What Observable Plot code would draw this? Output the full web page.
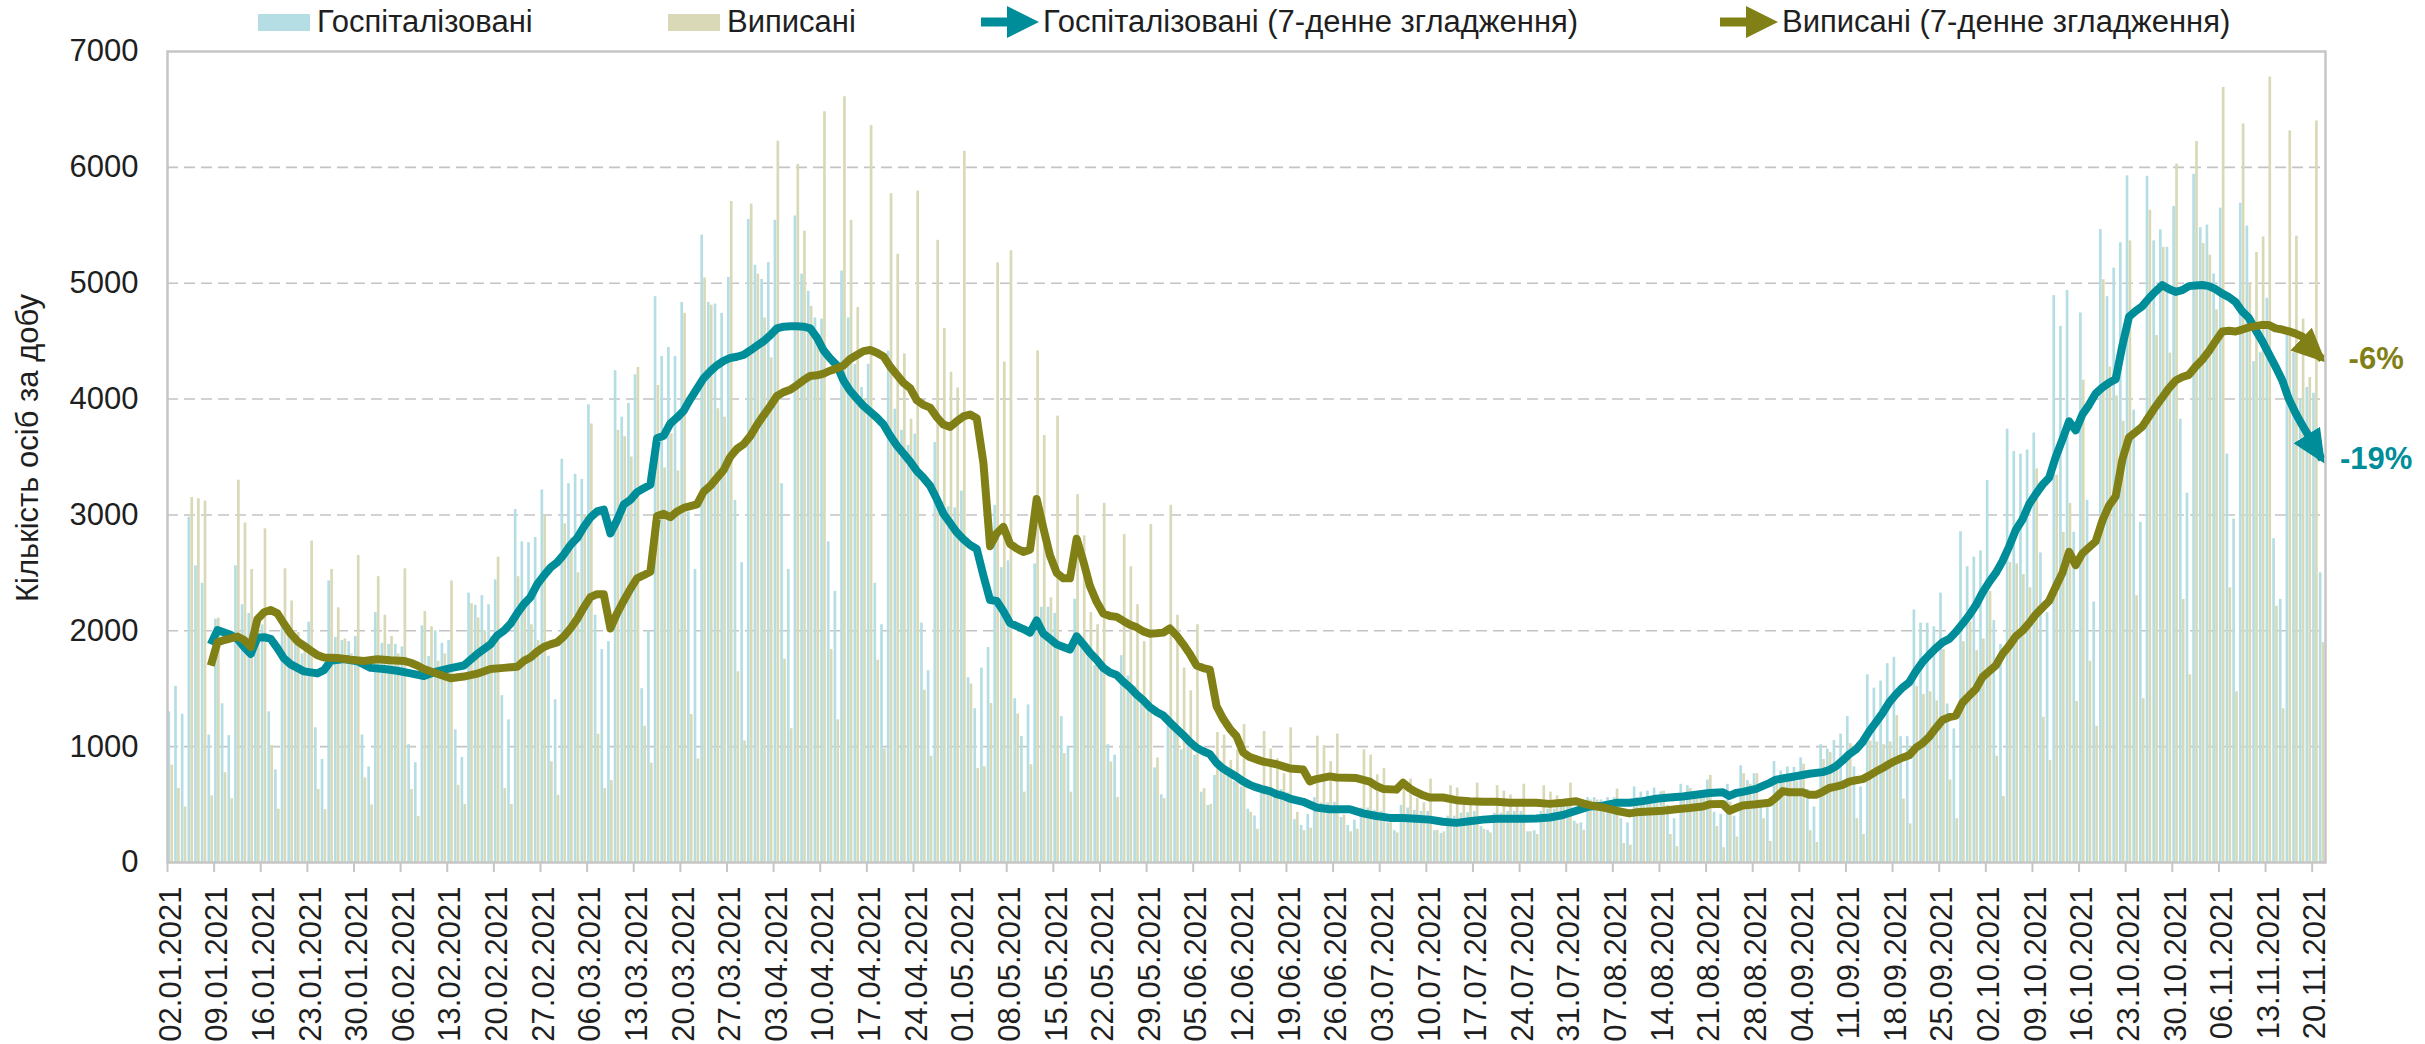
<!DOCTYPE html>
<html><head><meta charset="utf-8">
<script src="https://cdn.jsdelivr.net/npm/d3@7"></script>
<script src="https://cdn.jsdelivr.net/npm/@observablehq/plot@0.6"></script>
<style>
body{margin:0;background:#fff;font-family:"Liberation Sans",Arial,sans-serif;color:#1f1f1f;}
#wrap{position:relative;width:2425px;height:1044px;}
#legend{position:relative;height:44px;width:2425px;font-size:31px;}
.li{position:absolute;top:0;height:44px;display:flex;align-items:center;white-space:nowrap;}
.sw{display:inline-block;width:52px;height:17px;margin-right:7px;}
#ytitle{position:absolute;left:28px;top:448px;transform:translate(-50%,-50%) rotate(-90deg);font-size:31px;white-space:nowrap;}
</style></head>
<body>
<div id="wrap">
<div id="legend"></div>
<div id="chart"></div>
<div id="ytitle"></div>
</div>
<script>
// ---------- DATA ----------
const startDate = "2021-01-02";            // first category (02.01.2021), one category per day
const seriesNames = ["Госпіталізовані", "Виписані", "Госпіталізовані (7-денне згладження)", "Виписані (7-денне згладження)"];
const yTitle = "Кількість осіб за добу";
const yTicks = [0, 1000, 2000, 3000, 4000, 5000, 6000, 7000];
const changeLabels = ["-19%", "-6%"];       // hospitalised, discharged

// daily hospitalised (rows = weeks starting on Saturday)
const hospitalized = [
1300,1520,1280,2980,2560,2410,1100,
2100,1370,1095,2560,2225,2150,1900,
2050,1300,800,2045,1950,1880,1800,
2075,1163,890,2430,1942,1915,1906,
1950,1100,825,2157,1892,1883,1883,
1860,1017,862,2043,1778,2000,1892,
1915,1145,907,2325,2220,2303,2225,
2440,1440,1231,3046,2768,2760,2805,
3215,1780,1405,3480,3270,3350,3306,
3950,2134,1838,1906,4245,3844,3963,
4209,1500,2000,4884,4368,4446,4368,
4834,3025,2530,5415,4834,4820,4740,
5050,3126,2588,5550,5155,5032,5178,
5543,3270,2530,5580,5078,4930,4700,
4690,2768,2340,5105,4700,4300,4100,
4300,2410,2052,4414,3913,3730,3600,
3698,2066,1655,3625,3115,3070,3060,
3206,1596,1327,1678,1856,3083,2545,
2604,1414,1087,1360,2577,2203,2203,
2150,1259,1004,2272,1940,1795,1700,
1655,1017,926,1785,1610,1520,1430,
1340,816,584,1270,1155,972,1017,
926,607,492,752,789,743,698,
652,460,401,616,607,600,630,
600,370,320,415,560,515,515,
520,388,320,365,470,470,450,
440,342,274,493,470,450,440,
440,274,251,400,400,425,430,
440,310,278,425,425,440,440,
440,265,274,440,460,460,480,
500,356,342,560,560,540,560,
560,378,342,652,607,616,643,
610,493,378,675,662,610,620,
712,433,415,675,400,835,707,
767,538,479,871,789,825,821,
903,630,479,1017,980,1053,1108,
1259,825,652,1620,1505,1566,1716,
1771,1086,1086,2180,2066,2066,2034,
2325,1368,1153,2855,2553,2636,2690,
3297,2089,1883,3740,3547,3525,3560,
3707,2672,2157,4893,4628,4938,2850,
4743,3126,2248,5463,4884,5130,5349,
5927,3904,2936,5923,5365,5461,5310,
5662,3826,3187,5940,5479,5502,5080,
5648,3525,2964,5690,5493,4323,4400,
4870,2795,2271,4600,4400,4000,4100,
4050,2500];

// daily discharged
const discharged = [
840,640,480,3150,3140,3120,575,
2110,775,550,3300,2930,2530,2000,
2880,1010,460,2535,2257,1985,1900,
2775,630,456,2530,2198,1930,1800,
2650,730,497,2467,2134,1952,1800,
2535,630,397,2166,2034,1737,1800,
2430,666,500,2234,2111,2000,1950,
2636,638,502,2467,2200,2052,1915,
3000,870,580,2923,2800,2500,3000,
3785,1108,638,707,3730,3675,3500,
4273,1176,857,4118,3406,3700,3380,
4740,1277,894,5045,4810,3917,3844,
5705,1646,1049,5683,5078,4700,4355,
6225,1756,1155,6025,5450,4800,4500,
6480,1838,1231,6610,5543,4790,4000,
6360,1746,980,5773,5250,4390,3826,
5796,1487,917,5370,4610,4232,4095,
6138,1540,812,826,1373,5175,4320,
5280,1282,607,844,4415,3685,2285,
3853,940,607,3175,2820,2157,2052,
3100,867,561,2830,2553,2225,1906,
2918,903,552,3083,2134,1678,1482,
2052,638,502,1122,1099,880,972,
1190,433,287,1131,980,895,767,
1163,433,274,296,1090,1008,871,
1108,410,265,287,972,926,757,
812,342,255,638,720,552,515,
720,278,265,662,643,515,515,
685,287,255,662,616,584,515,
675,265,242,662,607,575,540,
685,333,278,540,540,515,515,
634,164,150,560,560,560,515,
616,242,137,560,638,590,560,
752,310,128,520,220,767,675,
767,378,182,685,757,767,698,
849,274,173,890,949,835,707,
1026,378,242,1049,1040,1017,1040,
1268,548,333,1520,1450,1473,1395,
1838,712,378,1906,2075,1829,1930,
2340,917,570,2590,2577,2485,2370,
3397,1254,880,3343,2850,3100,1390,
4163,1737,1176,5030,4277,4027,3808,
5365,2303,1414,5630,4548,5310,4397,
6028,2271,1620,6224,5343,5242,4770,
6690,2371,1473,6375,5000,5265,5400,
6780,2212,1327,6315,5406,4690,4186,
6400,1897];

// 7-day smoothed lines: [day index from startDate, value]
const hospitalizedSmooth = [
[6,1883],[7,2006],[8,1985],[9,1965],[10,1930],[11,1860],[12,1800],[13,1940],[14,1945],[15,1930],[16,1850],[17,1760],[18,1710],[20,1650],[22,1632],[23,1660],[24,1740],[26,1756],[28,1737],[30,1680],[32,1670],[34,1655],[36,1632],[38,1610],[40,1650],[42,1678],[44,1700],[46,1800],[48,1883],[49,1960],[50,2000],[51,2060],[52,2150],[53,2230],[54,2290],[55,2400],[56,2476],[57,2545],[58,2590],[59,2658],[60,2740],[61,2800],[62,2896],[63,2978],[64,3030],[65,3046],[66,2841],[67,2955],[68,3090],[69,3130],[70,3197],[71,3230],[72,3260],[73,3662],[74,3684],[75,3789],[76,3840],[77,3900],[78,4000],[79,4090],[80,4180],[81,4240],[82,4291],[83,4330],[84,4355],[85,4365],[86,4382],[87,4420],[88,4460],[89,4500],[90,4551],[91,4610],[92,4625],[93,4628],[94,4628],[95,4625],[96,4610],[97,4530],[98,4420],[99,4350],[100,4291],[101,4160],[102,4070],[103,4004],[104,3940],[105,3890],[106,3840],[107,3780],[108,3684],[109,3600],[110,3530],[111,3460],[112,3380],[113,3320],[114,3251],[115,3137],[116,3010],[117,2930],[118,2850],[119,2790],[120,2740],[121,2706],[122,2476],[123,2265],[124,2257],[125,2170],[126,2066],[127,2040],[128,2015],[129,1984],[130,2089],[131,1975],[132,1930],[133,1883],[134,1860],[135,1838],[136,1952],[137,1883],[138,1810],[139,1750],[140,1680],[141,1640],[142,1619],[143,1560],[144,1510],[145,1450],[146,1400],[147,1340],[148,1300],[149,1268],[150,1210],[151,1154],[152,1100],[153,1040],[154,990],[155,960],[156,935],[157,860],[158,810],[159,775],[160,740],[161,700],[162,670],[163,648],[164,630],[165,616],[166,590],[167,575],[168,552],[170,524],[172,475],[174,460],[177,460],[179,424],[181,401],[183,385],[185,385],[187,378],[189,370],[191,352],[193,342],[195,356],[197,370],[199,378],[203,378],[205,380],[207,388],[209,410],[211,447],[213,483],[215,490],[217,515],[219,515],[221,530],[223,550],[225,561],[227,570],[229,584],[231,600],[233,607],[234,575],[235,600],[236,610],[238,635],[240,685],[241,715],[242,725],[244,745],[246,766],[248,780],[249,798],[250,830],[251,880],[252,935],[253,975],[254,1040],[255,1131],[256,1210],[257,1290],[258,1382],[259,1450],[260,1510],[261,1555],[262,1650],[263,1730],[264,1792],[265,1850],[266,1900],[267,1930],[268,1990],[269,2060],[270,2134],[271,2220],[272,2330],[273,2420],[274,2499],[275,2600],[276,2727],[277,2870],[278,2960],[279,3092],[280,3180],[281,3260],[282,3320],[283,3500],[284,3650],[285,3808],[286,3730],[287,3867],[288,3950],[289,4049],[290,4100],[291,4140],[292,4172],[293,4460],[294,4710],[295,4760],[296,4802],[297,4870],[298,4930],[299,4984],[300,4950],[301,4925],[302,4940],[303,4975],[304,4980],[305,4984],[306,4975],[307,4948],[308,4910],[309,4880],[310,4838],[311,4756],[312,4700],[313,4597],[314,4500],[315,4391],[316,4280],[317,4163],[318,4000],[319,3880],[320,3776],[321,3680],[322,3570],[323,3479]];

const dischargedSmooth = [
[6,1700],[7,1900],[8,1920],[9,1935],[10,1950],[11,1920],[12,1860],[13,2100],[14,2160],[15,2180],[16,2150],[17,2060],[18,1975],[19,1910],[20,1870],[21,1829],[22,1790],[23,1770],[25,1765],[27,1750],[29,1740],[31,1755],[33,1746],[35,1740],[36,1724],[37,1700],[38,1670],[40,1630],[42,1590],[44,1605],[46,1630],[48,1670],[50,1680],[52,1690],[53,1740],[54,1770],[55,1820],[56,1860],[57,1883],[58,1900],[59,1950],[60,2020],[61,2100],[62,2200],[63,2290],[64,2316],[65,2316],[66,2020],[67,2150],[68,2260],[69,2362],[70,2453],[71,2480],[72,2510],[73,2990],[74,3009],[75,2980],[76,3030],[77,3060],[78,3075],[79,3091],[80,3200],[81,3251],[82,3320],[83,3388],[84,3502],[85,3570],[86,3610],[87,3680],[88,3776],[89,3860],[90,3940],[91,4026],[92,4060],[93,4080],[94,4120],[95,4163],[96,4200],[97,4205],[98,4220],[99,4245],[100,4265],[101,4290],[102,4346],[103,4380],[104,4414],[105,4423],[106,4400],[107,4368],[108,4280],[109,4210],[110,4140],[111,4095],[112,3990],[113,3950],[114,3926],[115,3844],[116,3780],[117,3760],[118,3808],[119,3850],[120,3867],[121,3835],[122,3450],[123,2730],[124,2841],[125,2896],[126,2750],[127,2710],[128,2681],[129,2700],[130,3137],[131,2886],[132,2650],[133,2500],[134,2453],[135,2453],[136,2795],[137,2600],[138,2385],[139,2250],[140,2150],[141,2128],[142,2120],[143,2085],[144,2052],[145,2030],[146,1995],[147,1975],[148,1978],[149,1984],[150,2020],[151,1960],[152,1883],[153,1800],[154,1700],[155,1678],[156,1664],[157,1350],[158,1240],[159,1154],[160,1090],[161,949],[162,910],[163,890],[164,871],[165,860],[166,848],[167,830],[168,812],[170,803],[171,700],[172,720],[174,743],[175,734],[178,729],[180,698],[181,660],[182,635],[184,629],[185,689],[186,640],[187,607],[188,580],[189,561],[191,561],[193,538],[195,529],[197,524],[199,524],[201,515],[205,515],[207,506],[209,515],[211,529],[212,510],[213,495],[215,475],[217,447],[219,424],[220,433],[222,440],[224,447],[226,460],[228,470],[230,483],[231,502],[233,506],[234,447],[235,470],[236,492],[238,502],[240,515],[241,561],[242,616],[243,607],[245,607],[246,584],[247,584],[248,610],[249,643],[250,655],[251,670],[252,698],[253,710],[254,720],[255,750],[256,785],[257,815],[258,850],[259,880],[260,905],[261,926],[262,990],[263,1030],[264,1085],[265,1160],[266,1230],[267,1254],[268,1268],[269,1380],[270,1440],[271,1496],[272,1600],[273,1650],[274,1701],[275,1800],[276,1870],[277,1952],[278,2000],[279,2066],[280,2140],[281,2200],[282,2257],[283,2380],[284,2500],[285,2681],[286,2567],[287,2668],[288,2720],[289,2772],[290,2950],[291,3080],[292,3160],[293,3479],[294,3670],[295,3715],[296,3762],[297,3850],[298,3935],[299,4015],[300,4095],[301,4160],[302,4190],[303,4209],[304,4280],[305,4340],[306,4414],[307,4500],[308,4583],[309,4590],[310,4583],[311,4600],[312,4619],[313,4630],[314,4640],[315,4640],[316,4610],[317,4600],[318,4585],[319,4565],[320,4540],[321,4460],[322,4400],[323,4346]];

// ---------- COLOURS ----------
const C = {hospBar:"#b4dee3", dischBar:"#d9d9b7", hospLine:"#008d9a", dischLine:"#808016", grid:"#c4c4c4", frame:"#c6c6c6", text:"#1f1f1f"};

// ---------- HELPERS ----------
const t0 = d3.utcParse("%Y-%m-%d")(startDate);
const day = i => d3.utcDay.offset(t0, i);
const mid = i => d3.utcHour.offset(day(i), 12);
const nDays = hospitalized.length;
const bars = hospitalized.map((h, i) => ({x1: day(i), x2: day(i + 1), hosp: h, disch: discharged[i]}));
const hs = hospitalizedSmooth.map(([i, v]) => ({x: mid(i), v}));
const ds = dischargedSmooth.map(([i, v]) => ({x: mid(i), v}));
const labelTicks = d3.range(0, nDays, 7).map(mid);
const markTicks = d3.range(0, nDays, 7).map(day);
const ends = [
  {x: hs[hs.length - 1].x, v: hs[hs.length - 1].v, t: changeLabels[0], c: C.hospLine},
  {x: ds[ds.length - 1].x, v: ds[ds.length - 1].v, t: changeLabels[1], c: C.dischLine}
];

function headMarker(color) {
  return function () {
    const ns = "http://www.w3.org/2000/svg";
    const m = document.createElementNS(ns, "marker");
    m.setAttribute("viewBox", "0 -5 10 10");
    m.setAttribute("markerUnits", "userSpaceOnUse");
    m.setAttribute("markerWidth", 34);
    m.setAttribute("markerHeight", 34);
    m.setAttribute("refX", 8.5);
    m.setAttribute("refY", 0);
    m.setAttribute("orient", "auto");
    const p = document.createElementNS(ns, "path");
    p.setAttribute("d", "M0,-4.6L10,0L0,4.6Z");
    p.setAttribute("fill", color);
    p.setAttribute("stroke", "none");
    m.appendChild(p);
    return m;
  };
}

// ---------- LEGEND & TITLE ----------
const legendPos = [258, 668, 979, 1718];
const legend = document.getElementById("legend");
seriesNames.forEach((name, k) => {
  const div = document.createElement("div");
  div.className = "li";
  div.style.left = legendPos[k] + "px";
  let icon;
  if (k < 2) {
    icon = `<span class="sw" style="background:${k === 0 ? C.hospBar : C.dischBar}"></span>`;
  } else {
    const col = k === 2 ? C.hospLine : C.dischLine;
    icon = `<svg width="62" height="36" style="margin-right:2px"><line x1="2" y1="18" x2="34" y2="18" stroke="${col}" stroke-width="9"/><path d="M28,2L60,18L28,34Z" fill="${col}"/></svg>`;
  }
  div.innerHTML = icon + `<span>${name}</span>`;
  legend.appendChild(div);
});
document.getElementById("ytitle").textContent = yTitle;

// ---------- CHART ----------
function build(useCustom) {
  return Plot.plot({
    width: 2425, height: 1000,
    marginLeft: 167, marginRight: 100, marginTop: 7, marginBottom: 182,
    style: {fontFamily: "'Liberation Sans', Arial, sans-serif", fontSize: "31px", color: C.text, background: "white", overflow: "visible"},
    x: {type: "utc", domain: [day(0), day(nDays)]},
    y: {domain: [0, 7000]},
    marks: [
      Plot.gridY(yTicks.filter(v => v > 0 && v < 7000), {stroke: C.grid, strokeOpacity: 1, strokeWidth: 1.6, strokeDasharray: "11,6"}),
      Plot.rectY(bars, {x1: "x1", x2: "x2", y: "hosp", fill: C.hospBar, insetLeft: 0.5, insetRight: 3.5}),
      Plot.rectY(bars, {x1: "x1", x2: "x2", y: "disch", fill: C.dischBar, insetLeft: 3.4, insetRight: 0.6}),
      Plot.line(hs, {x: "x", y: "v", stroke: C.hospLine, strokeWidth: 8, strokeLinejoin: "round", strokeLinecap: "butt", markerEnd: useCustom ? headMarker(C.hospLine) : "arrow"}),
      Plot.line(ds, {x: "x", y: "v", stroke: C.dischLine, strokeWidth: 8, strokeLinejoin: "round", strokeLinecap: "butt", markerEnd: useCustom ? headMarker(C.dischLine) : "arrow"}),
      Plot.frame({stroke: C.frame, strokeWidth: 2.5}),
      Plot.axisY(yTicks, {tickSize: 0, tickPadding: 29, tickFormat: d3.format("d"), fontSize: 31, label: null}),
      Plot.axisX(labelTicks, {tickSize: 0, tickPadding: 24, tickRotate: -90, tickFormat: d3.utcFormat("%d.%m.%Y"), fontSize: 31, label: null}),
      Plot.axisX(markTicks, {tickSize: 10, tickFormat: () => "", stroke: C.frame, strokeWidth: 2, label: null}),
      Plot.text(ends, {x: "x", y: "v", text: "t", fill: "c", dx: 54, fontSize: 31, fontWeight: "bold", textAnchor: "middle"})
    ]
  });
}
let chart;
try { chart = build(true); } catch (e) { console.error(e); chart = build(false); }
document.getElementById("chart").appendChild(chart);
</script>
</body></html>
